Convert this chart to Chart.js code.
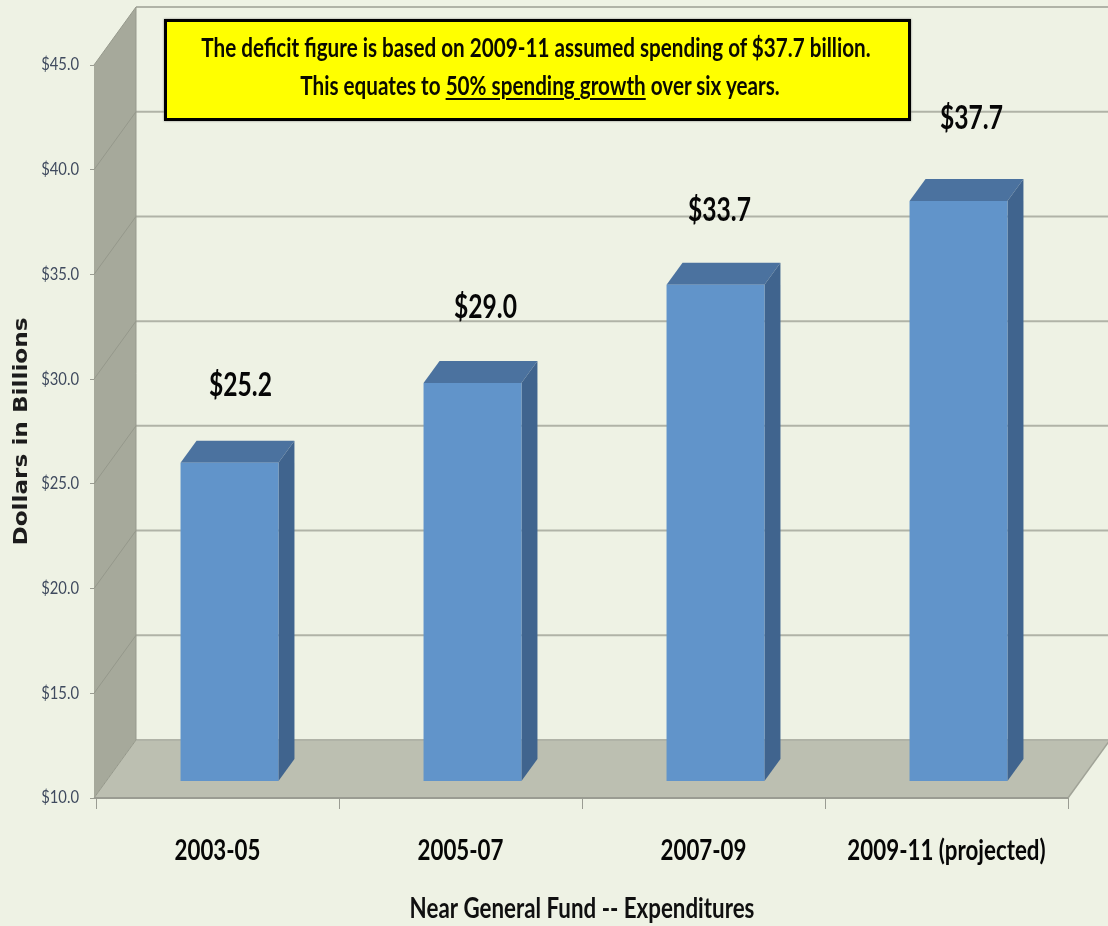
<!DOCTYPE html>
<html><head><meta charset="utf-8">
<script src="https://cdn.jsdelivr.net/npm/chart.js@4"></script>
<style>
html,body{margin:0;padding:0;background:#eef2e4;width:1108px;height:926px;overflow:hidden}
#wrap{position:relative;width:1108px;height:926px}
canvas{position:absolute;left:0;top:0}
#note{position:absolute;left:164px;top:19px;width:741px;height:96px;border:3px solid #000;background:#ffff00;box-shadow:0 0 2px #888;
font:bold 27px Lato,sans-serif;color:#0a0a00;text-align:center}
#note div{position:absolute;left:-100px;right:-100px;white-space:nowrap;transform:scaleX(.766)}
#note u{text-underline-offset:3px;text-decoration-thickness:2px}
</style></head><body>
<div id="wrap"><canvas id="c" width="1108" height="926"></canvas>
<div id="note"><div style="top:8px;margin-left:-3px">The deficit figure is based on 2009-11 assumed spending of $37.7 billion.</div>
<div style="top:46px;margin-left:5px">This equates to <u>50% spending growth</u> over six years.</div></div></div>
<script>
const categories = ['2003-05','2005-07','2007-09','2009-11 (projected)'];
const spending = [25.2,29.0,33.7,37.7];
const valueLabels = ['$25.2','$29.0','$33.7','$37.7'];
const yMin = 10, yMax = 45, yStep = 5;

const WALL_DX = 42, WALL_DY = 58, BAR_DX = 16, BAR_DY = 22, BAR_SHIFT = 12, FLOOR_LIFT_UNITS = 0.81;
const LABEL_NUDGE_X = [0,2,-7,2];
const LABEL_NUDGE_Y = [0,2,3,-5];

// Horizontal text stretch: the source uses condensed letterforms not installed here.
const canvas = document.getElementById('c');
const rawCtx = canvas.getContext('2d');
const plainFill = rawCtx.fillText;
rawCtx.fillText = function(t,x,y,m){
  const f = this.font;
  const k = /DejaVu/.test(f) ? 1.22 : /bold|700/.test(f) ? 0.77 : 0.87;
  this.save(); this.translate(x,y); this.scale(k,1);
  plainFill.call(this,t,0,0);
  this.restore();
};

function poly(ctx, pts, fill){
  ctx.beginPath(); pts.forEach((p,i)=> i?ctx.lineTo(p[0],p[1]):ctx.moveTo(p[0],p[1])); ctx.closePath();
  ctx.fillStyle = fill; ctx.fill();
}
const scene = {
  id:'scene',
  beforeDatasetsDraw(chart){
    const {ctx, chartArea:a, scales:{y}} = chart;
    const L = a.left-2, R = a.right, B = a.bottom, T = a.top;
    ctx.save();
    poly(ctx,[[L,B],[L+WALL_DX,B-WALL_DY],[L+WALL_DX,T-WALL_DY],[L,T]],'#a6a99b');
    poly(ctx,[[L,B],[L+WALL_DX,B-WALL_DY],[R+WALL_DX,B-WALL_DY],[R,B]],'#bcbfb1');
    for (let v=yMin; v<=yMax; v+=yStep){
      const py = y.getPixelForValue(v);
      ctx.lineWidth = 1; ctx.strokeStyle = '#95988b';
      ctx.beginPath(); ctx.moveTo(L,py); ctx.lineTo(L+WALL_DX,py-WALL_DY); ctx.stroke();
      ctx.lineWidth = 2; ctx.strokeStyle = '#b0b3a7';
      ctx.beginPath(); ctx.moveTo(L+WALL_DX,py-WALL_DY); ctx.lineTo(R+WALL_DX,py-WALL_DY); ctx.stroke();
    }
    ctx.lineWidth = 1; ctx.strokeStyle = '#97998d';
    ctx.beginPath(); ctx.moveTo(L+WALL_DX,T-WALL_DY); ctx.lineTo(L+WALL_DX,B-WALL_DY); ctx.stroke();
    ctx.lineWidth = 1.5; ctx.strokeStyle = '#a0a397';
    ctx.beginPath(); ctx.moveTo(R,B); ctx.lineTo(R+WALL_DX,B-WALL_DY); ctx.stroke();
    ctx.lineWidth = 2; ctx.strokeStyle = '#9a9c92';
    ctx.beginPath(); ctx.moveTo(L,B); ctx.lineTo(R,B); ctx.stroke();
    ctx.restore();
  },
  beforeDatasetDraw(chart){
    const ctx = chart.ctx; ctx.save(); ctx.translate(BAR_SHIFT,0);
    chart.getDatasetMeta(0).data.forEach(b=>{
      const l=b.x-b.width/2, r=b.x+b.width/2;
      poly(ctx,[[l,b.y],[l+BAR_DX,b.y-BAR_DY],[r+BAR_DX,b.y-BAR_DY],[r,b.y]],'#4b729f');
      poly(ctx,[[r,b.y],[r+BAR_DX,b.y-BAR_DY],[r+BAR_DX,b.base-BAR_DY],[r,b.base]],'#40648e');
    });
  },
  afterDatasetDraw(chart){ chart.ctx.restore(); },
  afterDatasetsDraw(chart){
    const ctx = chart.ctx; ctx.save();
    ctx.font = 'bold 32px Lato'; ctx.fillStyle = '#060606';
    ctx.textAlign='center'; ctx.textBaseline='middle';
    chart.getDatasetMeta(0).data.forEach((b,i)=>{
      ctx.fillText(valueLabels[i], b.x+BAR_SHIFT+11+LABEL_NUDGE_X[i], b.y-77+LABEL_NUDGE_Y[i]);
    });
    ctx.restore();
  }
};
new Chart(canvas,{
  type:'bar',
  data:{labels:categories,datasets:[{data:spending,yAxisID:'yBars',base:yMin,backgroundColor:'#6194ca',borderWidth:0,categoryPercentage:0.403,barPercentage:1}]},
  plugins:[scene],
  options:{
    responsive:false,animation:false,
    layout:{padding:{top:65,right:40,left:0,bottom:0}},
    plugins:{legend:{display:false},tooltip:{enabled:false},title:{display:false}},
    scales:{
      x:{
        grid:{drawOnChartArea:false,color:'#9a9c92',tickLength:11,offset:true},
        border:{display:false},
        ticks:{font:{family:'Lato',size:29,weight:'bold'},color:'#060606',padding:24,maxRotation:0,autoSkip:false},
        title:{display:true,text:'Near General Fund -- Expenditures',color:'#101010',font:{family:'Lato',size:29,weight:'bold'},padding:{top:0,bottom:0}},
        afterFit(s){s.height=128;}
      },
      y:{
        min:yMin,max:yMax,
        grid:{drawOnChartArea:false,color:'#9a9c92',tickLength:6},
        border:{display:false},
        ticks:{stepSize:yStep,callback:v=>'$'+v.toFixed(1),font:{family:'Lato',size:17},color:'#3f4a5e',padding:11},
        title:{display:true,text:'Dollars in Billions',color:'#1c1c1c',font:{family:'"DejaVu Sans"',size:19,weight:'bold'},padding:{top:11,bottom:0}},
        afterFit(s){s.width=96;}
      },
      yBars:{
        display:false,
        min:yMin-FLOOR_LIFT_UNITS,max:yMax-FLOOR_LIFT_UNITS
      }
    }
  }
});
</script></body></html>
